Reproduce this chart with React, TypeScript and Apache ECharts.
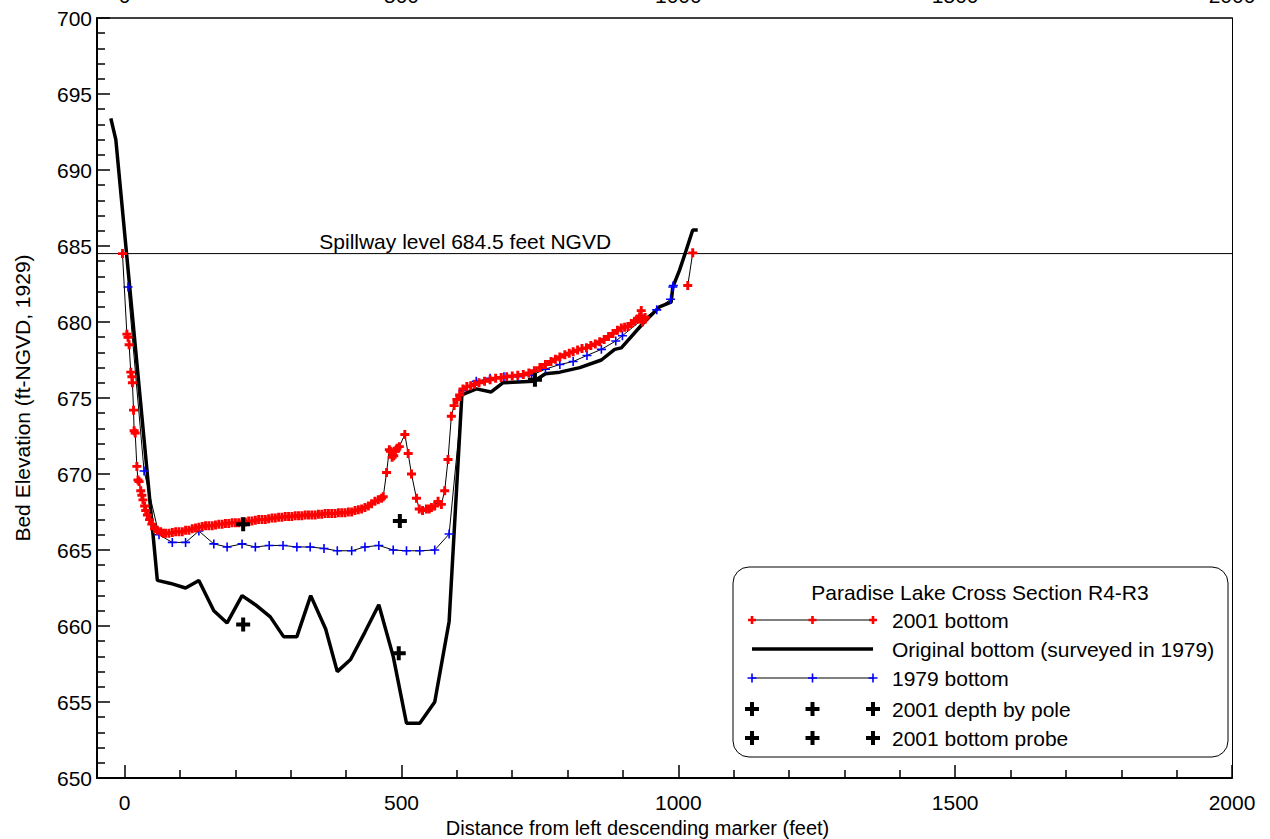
import React, { useEffect, useRef } from "react";
import * as echarts from "echarts";

const X_MIN = -50;
const X_MAX = 2000;
const Y_MIN = 650;
const Y_MAX = 700;
const X_TICKS = [0, 500, 1000, 1500, 2000];
const X_MINOR = [100, 200, 300, 400, 600, 700, 800, 900, 1100, 1200, 1300, 1400, 1600, 1700, 1800, 1900];
const SPILLWAY = 684.5;
const SPILLWAY_LABEL_X = 615;
const SPILLWAY_TEXT = "Spillway level 684.5 feet NGVD";

// 2001 bottom (null = gap)
const B2001_X = [
  -4, 4, 6, 8, 11, 13, 14, 16, 17, 19, 22, 24, 26, 29, 31, 33, 36, 38, 41, 45, 49, 54, 59, 65, 70, 74, 80, 86, 92, 98,
  104, 110, 116, 122, 128, 134, 140, 146, 152, 158, 164, 170, 176, 182, 188, 194, 200, 206, 212, 218, 224, 230, 236,
  242, 248, 254, 260, 266, 272, 278, 284, 290, 296, 302, 308, 314, 320, 326, 332, 338, 344, 350, 356, 362, 368, 374,
  380, 386, 392, 398, 404, 410, 416, 422, 428, 434, 440, 446, 452, 458, 464, 467, 473, 478, 480, 483, 486, 489, 492,
  496, 506, 512, 518, 527, 532, 538, 545, 550, 554, 560, 566, 572, 578, 584, 590, 595, 600, 605, 611, 618, 625, 632,
  640, 650, 660, 670, 680, 690, 700, 710, 720, 730, 740, 750, 760, 770, 778, 786, 795, 803, 810, 818, 826, 834, 842,
  850, 858, 866, 874, 882, 890, 897, 903, 909, 915, 921, 926, 930, 933, 935, 938, 940, null, 1017, 1026,
];
const B2001_Y = [
  684.5, 679.2, 679.0, 678.5, 676.7, 676.4, 676.0, 674.2, 672.85, 672.7, 670.5, 669.6, 669.5, 668.9, 668.6, 668.3,
  667.9, 667.6, 667.3, 667.0, 666.7, 666.4, 666.3, 666.2, 666.1, 666.1, 666.1, 666.15, 666.2, 666.2, 666.2, 666.3,
  666.3, 666.4, 666.45, 666.5, 666.55, 666.6, 666.6, 666.6, 666.65, 666.7, 666.7, 666.75, 666.75, 666.8, 666.8, 666.8,
  666.85, 666.85, 666.9, 666.9, 666.95, 667.0, 667.0, 667.0, 667.05, 667.1, 667.1, 667.15, 667.15, 667.2, 667.2, 667.2,
  667.25, 667.25, 667.25, 667.3, 667.3, 667.3, 667.3, 667.35, 667.35, 667.4, 667.4, 667.4, 667.4, 667.45, 667.45,
  667.45, 667.5, 667.5, 667.6, 667.65, 667.7, 667.8, 667.9, 668.05, 668.2, 668.3, 668.4, 668.5, 670.1, 671.6, 671.5,
  671.1, 671.2, 671.5, 671.7, 671.8, 672.6, 671.35, 670.0, 668.4, 667.7, 667.6, 667.7, 667.7, 667.8, 667.9, 668.2,
  668.0, 668.9, 670.95, 673.8, 674.5, 674.9, 675.2, 675.6, 675.75, 675.8, 675.9, 676.0, 676.1, 676.2, 676.3, 676.35,
  676.4, 676.45, 676.5, 676.55, 676.65, 676.8, 677.0, 677.2, 677.4, 677.55, 677.7, 677.85, 677.95, 678.05, 678.15,
  678.25, 678.3, 678.45, 678.55, 678.7, 678.85, 679.05, 679.25, 679.45, 679.6, 679.65, 679.7, 679.9, 680.05, 680.2,
  680.35, 680.75, 680.0, 680.2, 680.3, null, 682.4, 684.55,
];

// Original bottom (surveyed in 1979)
const ORIG_X = [
  -25, -16, 59, 83, 110, 134, 161, 185, 212, 236, 263, 287, 311, 336, 363, 384, 408, 434, 459, 485, 509, 533, 560, 586,
  609, 635, 662, 683, 739, 760, 786, 822, 861, 885, 897, 936, 966, 987, 990, 1002, 1014, 1026, 1035,
];
const ORIG_Y = [
  693.4, 692.0, 663.0, 662.8, 662.5, 663.0, 661.0, 660.2, 662.0, 661.4, 660.6, 659.3, 659.3, 662.0, 659.8, 657.0, 657.8,
  659.6, 661.4, 658.0, 653.6, 653.6, 655.0, 660.3, 675.2, 675.6, 675.4, 676.0, 676.1, 676.6, 676.7, 677.0, 677.5, 678.2,
  678.3, 679.9, 681.0, 681.3, 682.3, 683.4, 684.7, 686.05, 686.05,
];

// 1979 bottom
const B1979_X = [
  6, 35, 62, 86, 110, 134, 161, 185, 212, 236, 261, 286, 311, 335, 360, 384, 410, 434, 459, 485, 509, 533, 560, 586,
  611, 635, 660, 685, 710, 735, 760, 786, 810, 835, 861, 887, 899, 936, 961, 986, 990, 991,
];
const B1979_Y = [
  682.3, 670.2, 666.0, 665.5, 665.5, 666.25, 665.4, 665.2, 665.4, 665.2, 665.3, 665.3, 665.2, 665.2, 665.1, 664.95,
  664.95, 665.2, 665.3, 665.0, 664.95, 664.95, 665.0, 666.05, 675.5, 676.1, 676.3, 676.4, 676.4, 676.5, 676.9, 677.2,
  677.4, 677.8, 678.2, 678.75, 679.1, 680.2, 680.8, 681.5, 682.3, 682.4,
];

// 2001 depth by pole / bottom probe
const POLE_X = [214, 497, 741];
const POLE_Y = [666.7, 666.9, 676.2];
const PROBE_X = [214, 495];
const PROBE_Y = [660.1, 658.2];

const LEGEND_TITLE = "Paradise Lake Cross Section R4-R3";
const LEGEND_NAMES = [
  "2001 bottom",
  "Original bottom (surveyed in 1979)",
  "1979 bottom",
  "2001 depth by pole",
  "2001 bottom probe",
];

const FONT = "'Liberation Sans', Arial, Helvetica, sans-serif";
const FS = 21;

const zip = (xs: (number | null)[], ys: (number | null)[]) =>
  xs.map((x, i) => (x === null || ys[i] === null ? ["-", "-"] : [x, ys[i]]));

const RED_PLUS = "path://M-1.3,-4H1.3V-1.3H4V1.3H1.3V4H-1.3V1.3H-4V-1.3H-1.3Z";
const BLUE_PLUS = "path://M-0.8,-4.5H0.8V-0.8H4.5V0.8H0.8V4.5H-0.8V0.8H-4.5V-0.8H-0.8Z";
const BLACK_PLUS = "path://M-2,-7H2V-2H7V2H2V7H-2V2H-7V-2H-2Z";

function plusPoly(cx: number, cy: number, size: number, t: number, fill: string) {
  const h = size / 2;
  const a = t / 2;
  return {
    type: "polygon",
    z: 100,
    shape: {
      points: [
        [cx - a, cy - h], [cx + a, cy - h], [cx + a, cy - a], [cx + h, cy - a], [cx + h, cy + a], [cx + a, cy + a],
        [cx + a, cy + h], [cx - a, cy + h], [cx - a, cy + a], [cx - h, cy + a], [cx - h, cy - a], [cx - a, cy - a],
      ],
    },
    style: { fill },
  };
}

function buildLegend() {
  const bx = 733, by = 567, bw = 495, bh = 190;
  const rows = [620, 649, 678, 709, 738];
  const lx0 = 752, lx1 = 873, lxm = 812.5, tx = 892;
  const els: any[] = [
    { type: "rect", z: 99, shape: { x: bx, y: by, width: bw, height: bh, r: 16 }, style: { fill: "#fff", stroke: "#000", lineWidth: 1 } },
    { type: "text", z: 100, x: 980, y: 592, style: { text: LEGEND_TITLE, font: `${FS}px ${FONT}`, fill: "#000", align: "center", verticalAlign: "middle" } },
  ];
  els.push({ type: "line", z: 100, shape: { x1: lx0, y1: rows[0], x2: lx1, y2: rows[0] }, style: { stroke: "#000", lineWidth: 1 } });
  [lx0, lxm, lx1].forEach((x) => els.push(plusPoly(x, rows[0], 8, 2.6, "#ff0000")));
  els.push({ type: "line", z: 100, shape: { x1: lx0, y1: rows[1], x2: lx1, y2: rows[1] }, style: { stroke: "#000", lineWidth: 3.5 } });
  els.push({ type: "line", z: 100, shape: { x1: lx0, y1: rows[2], x2: lx1, y2: rows[2] }, style: { stroke: "#000", lineWidth: 1 } });
  [lx0, lxm, lx1].forEach((x) => els.push(plusPoly(x, rows[2], 9, 1.6, "#0000ff")));
  [3, 4].forEach((r) => [lx0, lxm, lx1].forEach((x) => els.push(plusPoly(x, rows[r], 14, 4, "#000"))));
  LEGEND_NAMES.forEach((n, i) =>
    els.push({ type: "text", z: 100, x: tx, y: rows[i], style: { text: n, font: `${FS}px ${FONT}`, fill: "#000", align: "left", verticalAlign: "middle" } })
  );
  return els;
}

const fmt = (v: number) => String(v);

export default function App() {
  const ref = useRef<HTMLDivElement>(null);
  useEffect(() => {
    if (!ref.current) return;
    const chart = echarts.init(ref.current, undefined, { renderer: "svg" });
    const gridPos = { left: 97, right: 38, top: 18, bottom: 61, containLabel: false, outerBoundsMode: "none" };
    const txt = { color: "#000", fontFamily: FONT, fontSize: FS };
    const option: any = {
      animation: false,
      backgroundColor: "#fff",
      textStyle: { fontFamily: FONT },
      grid: [{ ...gridPos }, { ...gridPos }],
      xAxis: [
        {
          type: "value",
          gridIndex: 0,
          position: "bottom",
          min: X_MIN,
          max: X_MAX,
          splitLine: { show: false },
          axisLine: { show: true, onZero: false, lineStyle: { color: "#000", width: 2 } },
          axisTick: { show: true, inside: true, length: 13, customValues: X_TICKS, lineStyle: { color: "#000", width: 1.5 } },
          minorTick: { show: false },
          axisLabel: { ...txt, margin: 14, customValues: X_TICKS, formatter: fmt },
          name: "Distance from left descending marker (feet)",
          nameLocation: "middle",
          nameGap: 36,
          nameTextStyle: { ...txt, fontSize: 20, padding: [0, 54, 0, 0] },
        },
        {
          type: "value",
          gridIndex: 0,
          position: "top",
          min: X_MIN,
          max: X_MAX,
          splitLine: { show: false },
          axisLine: { show: true, onZero: false, lineStyle: { color: "#000", width: 1.5 } },
          axisTick: { show: false },
          axisLabel: { ...txt, margin: 12, customValues: X_TICKS, formatter: fmt },
        },
        {
          type: "value",
          gridIndex: 1,
          position: "bottom",
          min: X_MIN,
          max: X_MAX,
          splitLine: { show: false },
          axisLine: { show: false, onZero: false },
          axisTick: { show: true, inside: true, length: 8, customValues: X_MINOR, lineStyle: { color: "#000", width: 1.5 } },
          axisLabel: { show: false },
        },
      ],
      yAxis: [
        {
          type: "value",
          gridIndex: 0,
          position: "left",
          min: Y_MIN,
          max: Y_MAX,
          interval: 5,
          splitLine: { show: false },
          axisLine: { show: true, onZero: false, lineStyle: { color: "#000", width: 2 } },
          axisTick: { show: true, inside: true, length: 13, lineStyle: { color: "#000", width: 1.5 } },
          minorTick: { show: true, splitNumber: 5, length: 8, lineStyle: { color: "#000", width: 1.5 } },
          axisLabel: { ...txt, margin: 5, formatter: fmt },
          name: "Bed Elevation (ft-NGVD, 1929)",
          nameLocation: "middle",
          nameGap: 64,
          nameTextStyle: { ...txt },
        },
        {
          type: "value",
          gridIndex: 0,
          position: "right",
          min: Y_MIN,
          max: Y_MAX,
          interval: 5,
          splitLine: { show: false },
          axisLine: { show: true, onZero: false, lineStyle: { color: "#000", width: 1 } },
          axisTick: { show: false },
          axisLabel: { show: false },
        },
        {
          type: "value",
          gridIndex: 1,
          min: Y_MIN,
          max: Y_MAX,
          show: false,
        },
      ],
      series: [
        {
          name: "Spillway",
          type: "line",
          xAxisIndex: 0,
          yAxisIndex: 0,
          data: [[X_MIN, SPILLWAY], [X_MAX, SPILLWAY]],
          symbol: "none",
          lineStyle: { color: "#000", width: 1 },
          z: 1,
        },
        {
          name: "Spillway label",
          type: "scatter",
          xAxisIndex: 0,
          yAxisIndex: 0,
          data: [[SPILLWAY_LABEL_X, SPILLWAY]],
          symbolSize: 0,
          itemStyle: { opacity: 1 },
          label: { show: true, position: "top", distance: 2, formatter: SPILLWAY_TEXT, ...txt },
          z: 1,
        },
        {
          name: LEGEND_NAMES[1],
          type: "line",
          xAxisIndex: 0,
          yAxisIndex: 0,
          data: zip(ORIG_X, ORIG_Y),
          symbol: "none",
          lineStyle: { color: "#000", width: 3.5 },
          z: 2,
        },
        {
          name: LEGEND_NAMES[2],
          type: "line",
          xAxisIndex: 0,
          yAxisIndex: 0,
          data: zip(B1979_X, B1979_Y),
          symbol: BLUE_PLUS,
          symbolSize: 9,
          showAllSymbol: true,
          itemStyle: { color: "#0000ff", opacity: 1 },
          lineStyle: { color: "#000", width: 1 },
          z: 3,
        },
        {
          name: LEGEND_NAMES[0],
          type: "line",
          xAxisIndex: 0,
          yAxisIndex: 0,
          data: zip(B2001_X, B2001_Y),
          connectNulls: false,
          symbol: RED_PLUS,
          symbolSize: 9,
          showAllSymbol: true,
          itemStyle: { color: "#ff0000", opacity: 1 },
          lineStyle: { color: "#000", width: 1 },
          z: 4,
        },
        {
          name: LEGEND_NAMES[3],
          type: "scatter",
          xAxisIndex: 0,
          yAxisIndex: 0,
          data: zip(POLE_X, POLE_Y),
          symbol: BLACK_PLUS,
          symbolSize: 14,
          itemStyle: { color: "#000", opacity: 1 },
          z: 5,
        },
        {
          name: LEGEND_NAMES[4],
          type: "scatter",
          xAxisIndex: 0,
          yAxisIndex: 0,
          data: zip(PROBE_X, PROBE_Y),
          symbol: BLACK_PLUS,
          symbolSize: 14,
          itemStyle: { color: "#000", opacity: 1 },
          z: 5,
        },
      ],
      graphic: buildLegend(),
    };
    chart.setOption(option);
    return () => chart.dispose();
  }, []);
  return (
    <div
      ref={ref}
      style={{ position: "fixed", left: 0, top: 0, width: 1270, height: 839, background: "#fff" }}
    />
  );
}
